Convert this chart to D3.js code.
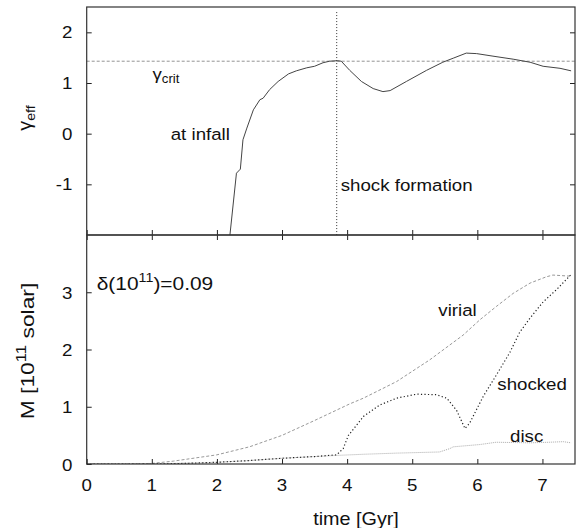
<!DOCTYPE html>
<html>
<head>
<meta charset="utf-8">
<script src="https://cdn.jsdelivr.net/npm/d3@7"></script>
<style>
  body { margin: 0; background: #fff; }
  text { font-family: "Liberation Sans", Arial, Helvetica, sans-serif; fill: #111; }
</style>
</head>
<body>
<div id="chart"></div>
<script>
// effective adiabatic index over time (top panel)
var gammaTime = [2.20, 2.30, 2.36, 2.40, 2.46, 2.56, 2.66, 2.71, 2.81, 2.94, 3.10, 3.22, 3.38, 3.50, 3.63, 3.73, 3.85,
    3.91, 4.04, 4.22, 4.40, 4.55, 4.66, 4.91, 5.22, 5.47, 5.63, 5.83, 5.99, 6.24, 6.55, 6.81, 7.01, 7.27, 7.44];
var gammaEff = [-2.0, -0.78, -0.70, -0.12, 0.11, 0.47, 0.67, 0.70, 0.87, 1.03, 1.18, 1.24, 1.30, 1.33, 1.40, 1.43, 1.44,
    1.43, 1.25, 1.03, 0.89, 0.83, 0.85, 1.03, 1.25, 1.41, 1.49, 1.59, 1.58, 1.53, 1.47, 1.41, 1.33, 1.29, 1.24];
var gammaCrit = 1.43;
var shockTime = 3.84;

// masses in 1e11 solar (bottom panel)
var virialTime = [0, 0.5, 1.0, 1.33, 2.0, 2.5, 3.0, 3.5, 4.04, 4.25, 4.76, 5.27, 5.78, 6.04, 6.29, 6.55, 6.81, 7.06, 7.16, 7.44];
var virialMass = [0, 0, 0.01, 0.05, 0.16, 0.30, 0.50, 0.76, 1.05, 1.15, 1.44, 1.82, 2.25, 2.52, 2.75, 2.98, 3.16, 3.27, 3.30, 3.28];
var shockedTime = [0, 1.0, 1.5, 2.0, 2.5, 3.0, 3.5, 3.84, 3.94, 4.02, 4.25, 4.50, 4.76, 5.07, 5.37, 5.53, 5.68, 5.81,
    5.88, 6.09, 6.29, 6.50, 6.65, 6.81, 7.01, 7.22, 7.44];
var shockedMass = [0, 0, 0.01, 0.03, 0.06, 0.10, 0.13, 0.16, 0.27, 0.50, 0.83, 1.03, 1.15, 1.22, 1.21, 1.15, 0.94, 0.62,
    0.71, 1.18, 1.55, 1.95, 2.30, 2.55, 2.83, 3.05, 3.31];
var discTime = [0, 1.0, 2.0, 2.5, 3.0, 3.5, 3.84, 4.25, 4.76, 5.42, 5.58, 5.63, 6.04, 6.29, 6.81, 7.10, 7.32, 7.44];
var discMass = [0, 0, 0.03, 0.06, 0.10, 0.13, 0.15, 0.17, 0.19, 0.21, 0.27, 0.30, 0.34, 0.38, 0.37, 0.38, 0.39, 0.37];

var timeTicks = [0, 1, 2, 3, 4, 5, 6, 7];
var gammaTicks = [2, 1, 0, -1];
var massTicks = [0, 1, 2, 3];

var width = 579, height = 528;
var left = 86.7, right = 575;
var fs = 17, stretch = 1.1;

var svg = d3.select("#chart").append("svg")
    .attr("width", width)
    .attr("height", height);

var x = d3.scaleLinear().domain([0, 7.5]).range([left, right]);
var yTop = d3.scaleLinear().domain([-2, 2.5]).range([235, 7]);
var yBot = d3.scaleLinear().domain([0, 4]).range([464, 235]);

function zip(xs, ys) {
    return xs.map(function (d, i) { return [d, ys[i]]; });
}

// text is slightly wide in the original, so stretch it horizontally
function label(g, px, py, str, anchor, size) {
    return g.append("text")
        .attr("transform", "translate(" + px + "," + py + ") scale(" + stretch + ",1)")
        .attr("text-anchor", anchor || "start")
        .style("font-size", (size || fs) + "px")
        .text(str);
}

svg.append("clipPath").attr("id", "clipTop").append("rect")
    .attr("x", left).attr("y", 7).attr("width", right - left).attr("height", 228);
svg.append("clipPath").attr("id", "clipBot").append("rect")
    .attr("x", left).attr("y", 235).attr("width", right - left).attr("height", 229);

var gTop = svg.append("g");
var gBot = svg.append("g");

// ---- top panel ----
var lineTop = d3.line().x(function (d) { return x(d[0]); }).y(function (d) { return yTop(d[1]); });

gTop.append("line")
    .attr("x1", x(0)).attr("x2", x(7.5))
    .attr("y1", yTop(gammaCrit)).attr("y2", yTop(gammaCrit))
    .attr("stroke", "#777").attr("stroke-width", 0.8).attr("stroke-dasharray", "3,2");

gTop.append("line")
    .attr("x1", x(shockTime)).attr("x2", x(shockTime))
    .attr("y1", yTop(2.4)).attr("y2", yTop(-2))
    .attr("stroke", "#333").attr("stroke-width", 1).attr("stroke-dasharray", "1,2");

gTop.append("path")
    .datum(zip(gammaTime, gammaEff))
    .attr("clip-path", "url(#clipTop)")
    .attr("fill", "none")
    .attr("stroke", "#444")
    .attr("stroke-width", 1)
    .attr("d", lineTop);

// gamma_crit label
var gc = gTop.append("text")
    .attr("transform", "translate(152.5,80) scale(" + stretch + ",1)")
    .style("font-size", "17px");
gc.append("tspan").text("γ");
gc.append("tspan").attr("dy", 3).style("font-size", "12px").text("crit");

label(gTop, 170.7, 140, "at infall");
label(gTop, 340.7, 191, "shock formation");

// ---- bottom panel ----
var lineBot = d3.line().x(function (d) { return x(d[0]); }).y(function (d) { return yBot(d[1]); });

gBot.append("path")
    .datum(zip(virialTime, virialMass))
    .attr("clip-path", "url(#clipBot)")
    .attr("fill", "none").attr("stroke", "#999").attr("stroke-width", 1)
    .attr("stroke-dasharray", "3,2")
    .attr("d", lineBot);

gBot.append("path")
    .datum(zip(discTime, discMass))
    .attr("clip-path", "url(#clipBot)")
    .attr("fill", "none").attr("stroke", "#aaa").attr("stroke-width", 1)
    .attr("stroke-dasharray", "1,1")
    .attr("d", lineBot);

gBot.append("path")
    .datum(zip(shockedTime, shockedMass))
    .attr("clip-path", "url(#clipBot)")
    .attr("fill", "none").attr("stroke", "#222").attr("stroke-width", 1.2)
    .attr("stroke-dasharray", "1.2,2.3")
    .attr("d", lineBot);

var dl = gBot.append("text")
    .attr("transform", "translate(96.7,290) scale(" + stretch + ",1)")
    .style("font-size", "19px");
dl.append("tspan").text("δ(10");
dl.append("tspan").attr("dy", -8).style("font-size", "13px").text("11");
dl.append("tspan").attr("dy", 8).text(")=0.09");

label(gBot, 438.3, 316, "virial");
label(gBot, 497.3, 390, "shocked");
label(gBot, 510, 442, "disc");

// ---- axes ----
var tl = 5;
svg.append("g").attr("transform", "translate(0,235)")
    .call(d3.axisTop(x).tickValues(timeTicks).tickSize(tl).tickFormat(""));
svg.append("g").attr("transform", "translate(0,235)")
    .call(d3.axisBottom(x).tickValues(timeTicks).tickSize(tl).tickFormat(""));
svg.append("g").attr("transform", "translate(0,464)")
    .call(d3.axisTop(x).tickValues(timeTicks).tickSize(tl).tickFormat(""));
svg.append("g").attr("transform", "translate(" + left + ",0)")
    .call(d3.axisRight(yTop).tickValues(gammaTicks).tickSize(tl).tickFormat(""));
svg.append("g").attr("transform", "translate(" + right + ",0)")
    .call(d3.axisLeft(yTop).tickValues(gammaTicks).tickSize(tl).tickFormat(""));
svg.append("g").attr("transform", "translate(" + left + ",0)")
    .call(d3.axisRight(yBot).tickValues(massTicks).tickSize(tl).tickFormat(""));
svg.selectAll(".domain").remove();
svg.selectAll(".tick line").attr("stroke", "#222");

timeTicks.forEach(function (t) { label(svg, x(t), 491, String(t), "middle"); });
gammaTicks.forEach(function (g) { label(svg, 72.5, yTop(g) + 6, String(g), "end"); });
massTicks.forEach(function (m) { label(svg, 72.5, yBot(m) + 6.5, String(m), "end"); });

// frames
[[7, 235], [235, 464]].forEach(function (p) {
    svg.append("rect")
        .attr("x", left).attr("y", p[0])
        .attr("width", right - left).attr("height", p[1] - p[0])
        .attr("fill", "none").attr("stroke", "#333").attr("stroke-width", 1.2);
});

// axis titles
label(svg, 356, 525, "time [Gyr]", "middle", 18);

var ge = svg.append("text")
    .attr("transform", "translate(31,118) rotate(-90) scale(1.1,1)")
    .attr("text-anchor", "middle")
    .style("font-size", "18px");
ge.append("tspan").text("γ");
ge.append("tspan").attr("dy", 4).style("font-size", "13px").text("eff");

var mt = svg.append("text")
    .attr("transform", "translate(33.5,351) rotate(-90) scale(1.2,1)")
    .attr("text-anchor", "middle")
    .style("font-size", "19px");
mt.append("tspan").text("M [10");
mt.append("tspan").attr("dy", -8).style("font-size", "14px").text("11");
mt.append("tspan").attr("dy", 8).text(" solar]");
</script>
</body>
</html>
